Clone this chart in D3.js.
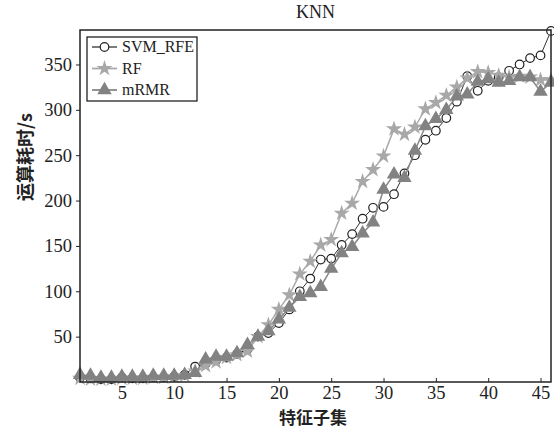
<!DOCTYPE html>
<html>
<head>
<meta charset="utf-8">
<script src="https://cdn.jsdelivr.net/npm/d3@7"></script>
<style>
  body { margin: 0; background: #fff; }
  .tick text { font-family: "Liberation Serif", "DejaVu Serif", serif; font-size: 18.5px; fill: #222; }
</style>
</head>
<body>
<svg id="chart" width="554" height="430"></svg>
<script>
// feature subset sizes
const subsets = d3.range(1, 47);

const svmRfe = [5, 4, 3, 3, 5, 4, 4, 5, 5, 6, 8, 17, 20, 24, 27, 31, 36, 50, 54, 65,
  80, 100, 114, 135, 136, 151, 163, 180, 192, 193, 207, 230, 250, 267, 277, 291, 309, 337, 321, 332,
  336, 343, 350, 357, 360, 387];
const rf = [4, 3, 3, 3, 4, 4, 4, 5, 5, 6, 7, 12, 18, 22, 27, 30, 34, 50, 63, 80,
  96, 119, 133, 151, 157, 186, 197, 221, 234, 249, 279, 273, 281, 301, 308, 316, 325, 335, 342, 341,
  338, 336, 337, 336, 333, 333];
const mrmr = [8, 7, 5, 5, 6, 6, 6, 7, 7, 7, 8, 10, 25, 28, 28, 32, 41, 50, 56, 69,
  82, 94, 98, 105, 125, 142, 149, 164, 176, 212, 229, 225, 255, 282, 290, 300, 315, 317, 331, 334,
  330, 332, 336, 336, 320, 330];

const xTicks = [5, 10, 15, 20, 25, 30, 35, 40, 45];
const yTicks = [50, 100, 150, 200, 250, 300, 350];

const series = [
  { name: 'SVM_RFE', values: svmRfe, line: '#333', width: 1, marker: 'circle' },
  { name: 'RF', values: rf, line: '#aaa', width: 1.5, marker: 'star' },
  { name: 'mRMR', values: mrmr, line: '#888', width: 1.5, marker: 'triangle' }
];

const svg = d3.select('#chart');
const plotL = 80, plotR = 551, plotT = 30, plotB = 382;

const x = d3.scaleLinear().domain([1, 46]).range([plotL, plotR]);
const y = d3.scaleLinear().domain([0, 388]).range([plotB, plotT]);

// axes
svg.append('g')
  .attr('transform', `translate(0, ${plotB})`)
  .call(d3.axisBottom(x).tickValues(xTicks).tickSizeInner(-4).tickSizeOuter(0).tickPadding(4))
  .call(g => g.select('.domain').remove())
  .call(g => g.selectAll('.tick line').attr('stroke', '#222'));

svg.append('g')
  .attr('transform', `translate(${plotL}, 0)`)
  .call(d3.axisLeft(y).tickValues(yTicks).tickSizeInner(4).tickSizeOuter(0).tickPadding(4))
  .call(g => g.select('.domain').remove())
  .call(g => g.selectAll('.tick line').attr('stroke', '#222'));

function drawMarker(g, type, cx, cy) {
  if (type === 'circle') {
    g.append('circle').attr('cx', cx).attr('cy', cy).attr('r', 4.3)
      .attr('fill', '#fff').attr('stroke', '#222').attr('stroke-width', 1.2);
  } else if (type === 'star') {
    g.append('path').attr('d', d3.symbol(d3.symbolStar, 80)())
      .attr('transform', `translate(${cx},${cy})`).attr('fill', '#a8a8a8');
  } else {
    g.append('path').attr('d', d3.symbol(d3.symbolTriangle, 90)())
      .attr('transform', `translate(${cx},${cy})`).attr('fill', '#828282');
  }
}

const line = d3.line().x((d, i) => x(subsets[i])).y(d => y(d));

series.forEach(s => {
  const g = svg.append('g');
  g.append('path')
    .datum(s.values)
    .attr('d', line)
    .attr('fill', 'none')
    .attr('stroke', s.line)
    .attr('stroke-width', s.width);
  s.values.forEach((v, i) => drawMarker(g, s.marker, x(subsets[i]), y(v)));
});

// frame
svg.append('rect')
  .attr('x', plotL).attr('y', plotT)
  .attr('width', plotR - plotL).attr('height', plotB - plotT)
  .attr('fill', 'none').attr('stroke', '#222').attr('stroke-width', 1.5);

// legend
const legend = svg.append('g');
legend.append('rect')
  .attr('x', 87).attr('y', 37).attr('width', 110).attr('height', 64)
  .attr('fill', '#fff').attr('stroke', '#222').attr('stroke-width', 1.3);

series.forEach((s, i) => {
  const ly = 47 + i * 21.5;
  legend.append('line')
    .attr('x1', 92).attr('x2', 117).attr('y1', ly).attr('y2', ly)
    .attr('stroke', s.line).attr('stroke-width', s.width + 0.3);
  drawMarker(legend, s.marker, 104.5, ly);
  legend.append('text')
    .attr('x', 122).attr('y', ly + 5)
    .attr('font-family', '"Liberation Serif", serif')
    .attr('font-size', 16)
    .attr('fill', '#222')
    .text(s.name);
});

// title and labels
svg.append('text')
  .attr('x', (plotL + plotR) / 2).attr('y', 18)
  .attr('text-anchor', 'middle')
  .attr('font-family', '"Liberation Serif", serif')
  .attr('font-size', 18)
  .attr('fill', '#222')
  .text('KNN');

svg.append('text')
  .attr('x', 313).attr('y', 424)
  .attr('text-anchor', 'middle')
  .attr('font-family', '"Noto Sans CJK SC", sans-serif')
  .attr('font-weight', 'bold')
  .attr('font-size', 17)
  .attr('fill', '#222')
  .text('特征子集');

svg.append('text')
  .attr('transform', 'translate(32, 157) rotate(-90)')
  .attr('text-anchor', 'middle')
  .attr('font-family', '"Noto Sans CJK SC", sans-serif')
  .attr('font-weight', 'bold')
  .attr('font-size', 18)
  .attr('fill', '#222')
  .text('运算耗时/s');
</script>
</body>
</html>
